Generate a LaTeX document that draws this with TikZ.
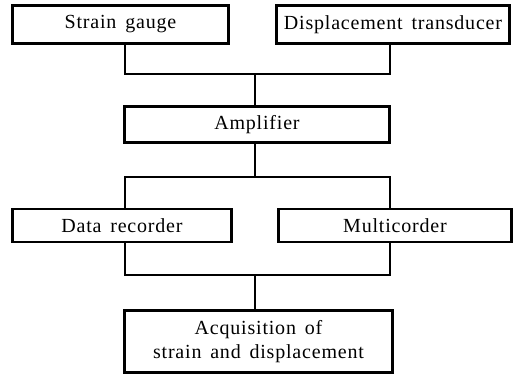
\documentclass[tikz,border=0pt]{standalone}
\usepackage{fontspec}
\setmainfont{Liberation Serif}[LetterSpace=4]
\begin{document}
\begin{tikzpicture}[x=1pt,y=-1pt,
  box/.style={draw, line width=2.7pt, inner sep=0pt, font=\fontsize{20}{23}\selectfont, align=center},
  wire/.style={line width=2.7pt}]
\useasboundingbox (0,0) rectangle (515,375);
\node[box, minimum width=216pt, minimum height=38pt] (sg) at (120.5,24.5) {Strain\hspace{3pt} gauge};
\node[box, minimum width=233pt, minimum height=38pt] (dt) at (393,24.5) {Displacement\hspace{3pt} transducer};
\node[box, minimum width=265pt, minimum height=36pt] (amp) at (257,124.5) {Amplifier};
\node[box, minimum width=219pt, minimum height=33pt] (dr) at (122,225.5) {Data\hspace{3pt} recorder};
\node[box, minimum width=233pt, minimum height=33pt] (mc) at (395,225.5) {Multicorder};
\node[box, minimum width=268pt, minimum height=62pt] (acq) at (258.5,341.5) {Acquisition\hspace{3pt} of\\[1pt] strain\hspace{3pt} and\hspace{3pt} displacement};
\coordinate (j1) at (255,74);
\coordinate (j2) at (255,177);
\coordinate (j3) at (255,275);
\draw[wire] ([xshift=4.5pt]sg.south) |- (j1) -| ([xshift=-3pt]dt.south);
\draw[wire] (j1) -- (j1 |- amp.north);
\draw[wire] (j2 |- amp.south) -- (j2);
\draw[wire] ([xshift=3pt]dr.north) |- (j2) -| ([xshift=-5pt]mc.north);
\draw[wire] ([xshift=3pt]dr.south) |- (j3) -| ([xshift=-5pt]mc.south);
\draw[wire] (j3) -- (j3 |- acq.north);
\end{tikzpicture}
\end{document}
